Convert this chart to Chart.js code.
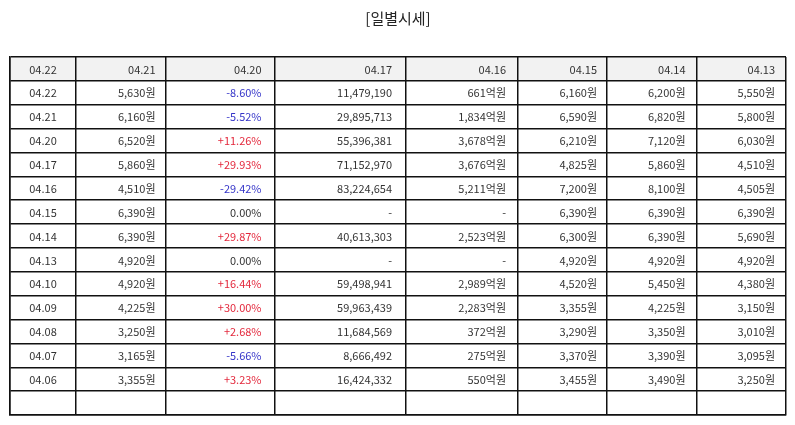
<!DOCTYPE html>
<html>
<head>
<meta charset="utf-8">
<script src="https://cdn.jsdelivr.net/npm/chart.js@4.4.1/dist/chart.umd.min.js"></script>
<style>
  html, body { margin: 0; padding: 0; background: #fff; }
  #wrap { width: 795px; height: 425px; }
</style>
</head>
<body>
<div id="wrap"><canvas id="tbl" width="795" height="425"></canvas></div>
<script>
// 표 머리글 (원본 그대로 날짜가 들어가 있음)
const headerLabels = ['04.22', '04.21', '04.20', '04.17', '04.16', '04.15', '04.14', '04.13'];

// 일자별 데이터
const dates = ['04.22', '04.21', '04.20', '04.17', '04.16', '04.15', '04.14', '04.13', '04.10', '04.09', '04.08', '04.07', '04.06'];
const closePrice = [5630, 6160, 6520, 5860, 4510, 6390, 6390, 4920, 4920, 4225, 3250, 3165, 3355];
const changePct = [-8.60, -5.52, 11.26, 29.93, -29.42, 0.00, 29.87, 0.00, 16.44, 30.00, 2.68, -5.66, 3.23];
const volume = [11479190, 29895713, 55396381, 71152970, 83224654, null, 40613303, null, 59498941, 59963439, 11684569, 8666492, 16424332];
const tradeValue = [661, 1834, 3678, 3676, 5211, null, 2523, null, 2989, 2283, 372, 275, 550]; // 억원
const openPrice = [6160, 6590, 6210, 4825, 7200, 6390, 6300, 4920, 4520, 3355, 3290, 3370, 3455];
const highPrice = [6200, 6820, 7120, 5860, 8100, 6390, 6390, 4920, 5450, 4225, 3350, 3390, 3490];
const lowPrice = [5550, 5800, 6030, 4510, 4505, 6390, 5690, 4920, 4380, 3150, 3010, 3095, 3250];

// 레이아웃 (열 너비, 오른쪽 여백)
const colWidths = [66, 89.5, 109, 131.5, 112, 89, 89.5, 89.5];
const colPad = [0, 10, 13, 14, 12, 10, 11, 11];

const bounds = [0];
colWidths.forEach(w => bounds.push(bounds[bounds.length - 1] + w));
const totalW = bounds[bounds.length - 1];

const rowKeys = ['head'].concat(dates.map((d, i) => 'r' + i), ['blank']);

const won = v => v.toLocaleString('en-US') + '원';
const pct = v => (v > 0 ? '+' : '') + v.toFixed(2) + '%';

// 셀 문자열 만들기
function cellRows() {
    const rows = [headerLabels.map(t => ({ text: t }))];
    dates.forEach((d, i) => {
        const c = changePct[i];
        rows.push([
            { text: d },
            { text: won(closePrice[i]) },
            { text: pct(c), color: c > 0 ? '#e3283c' : (c < 0 ? '#3434c8' : null) },
            { text: volume[i] == null ? '-' : volume[i].toLocaleString('en-US') },
            { text: tradeValue[i] == null ? '-' : tradeValue[i].toLocaleString('en-US') + '억원' },
            { text: won(openPrice[i]) },
            { text: won(highPrice[i]) },
            { text: won(lowPrice[i]) }
        ]);
    });
    rows.push(headerLabels.map(() => ({ text: '' })));
    return rows;
}

const cellText = {
    id: 'cellText',
    afterDraw(chart) {
        const ctx = chart.ctx;
        const xs = chart.scales.x, ys = chart.scales.y;
        ctx.save();
        ctx.font = '11px "Noto Sans CJK KR", "Noto Sans", sans-serif';
        ctx.textBaseline = 'middle';
        cellRows().forEach((row, r) => {
            const y = ys.getPixelForValue(r);
            row.forEach((cell, c) => {
                if (!cell.text) return;
                ctx.fillStyle = cell.color || '#333';
                if (c === 0) {
                    ctx.textAlign = 'center';
                    ctx.fillText(cell.text, xs.getPixelForValue((bounds[0] + bounds[1]) / 2), y + 0.5);
                } else {
                    ctx.textAlign = 'right';
                    ctx.fillText(cell.text, xs.getPixelForValue(bounds[c + 1]) - colPad[c], y + 0.5);
                }
            });
        });
        ctx.restore();
    }
};

Chart.defaults.font.family = '"Noto Sans CJK KR", "Noto Sans", sans-serif';

new Chart(document.getElementById('tbl'), {
    type: 'bar',
    data: {
        labels: rowKeys,
        datasets: [{
            // 머리글 배경
            data: rowKeys.map(k => k === 'head' ? [0, totalW] : null),
            backgroundColor: '#f2f2f2',
            borderWidth: 0,
            barPercentage: 1,
            categoryPercentage: 1
        }]
    },
    options: {
        indexAxis: 'y',
        responsive: false,
        animation: false,
        devicePixelRatio: 1,
        layout: { padding: { left: 10, right: 9, bottom: 10, top: 0 } },
        plugins: {
            legend: { display: false },
            tooltip: { enabled: false },
            title: {
                display: true,
                text: '[일별시세]',
                color: '#222',
                font: { size: 15, weight: 'normal' },
                padding: { top: 9, bottom: 30 }
            }
        },
        scales: {
            x: {
                type: 'linear',
                min: 0,
                max: totalW,
                afterBuildTicks: s => { s.ticks = bounds.map(v => ({ value: v })); },
                ticks: { display: false },
                grid: { color: '#111', lineWidth: 1.5, drawTicks: false, z: 1 },
                border: { display: true, color: '#111', width: 1.5, z: 1 }
            },
            y: {
                type: 'category',
                offset: true,
                ticks: { display: false },
                grid: { offset: true, color: '#111', lineWidth: 1.5, drawTicks: false, z: 1 },
                border: { display: true, color: '#111', width: 1.5, z: 1 }
            }
        }
    },
    plugins: [cellText]
});
</script>
</body>
</html>
